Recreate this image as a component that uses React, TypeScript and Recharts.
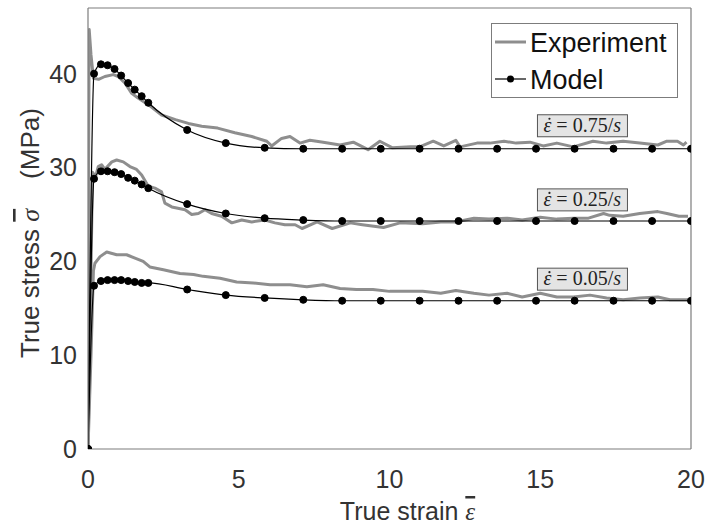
import { LineChart, Line, XAxis, YAxis, ReferenceDot, Legend } from 'recharts';

// x = true strain, y = true stress (MPa)
const exp075: [number, number][] = [
  [0, 0], [0.02, 30], [0.04, 44.7], [0.1, 42], [0.18, 39.5], [0.35, 39.4], [0.56, 39.7], [0.84, 39.9],
  [1.0, 39.7], [1.23, 39.0], [1.45, 37.9], [1.66, 37.4], [2.0, 36.7], [2.44, 35.6], [2.9, 35.1],
  [3.33, 34.7], [3.77, 34.4], [4.3, 34.2], [4.87, 33.7], [5.43, 33.3], [5.93, 32.8], [6.09, 32.3],
  [6.42, 33.1], [6.7, 33.3], [7.03, 32.6], [7.36, 32.9], [7.8, 32.7], [8.36, 32.4], [8.8, 32.7],
  [9.29, 31.9], [9.68, 32.8], [10.1, 32.1], [10.7, 32.2], [11.0, 32.2], [11.45, 32.8], [11.8, 32.3],
  [12.2, 32.9], [12.34, 32.2], [12.9, 32.6], [13.33, 32.6], [13.8, 32.8], [14.2, 32.6], [14.66, 32.7],
  [15.1, 32.3], [15.55, 32.6], [16.1, 32.2], [16.75, 32.8], [17.2, 32.6], [17.75, 32.8], [18.3, 32.6],
  [18.9, 32.4], [19.2, 32.8], [19.55, 32.8], [19.75, 32.4], [19.85, 32.7],
];

const exp025: [number, number][] = [
  [0, 0], [0.08, 15], [0.15, 29.5], [0.25, 29.0], [0.34, 30.1], [0.45, 30.3], [0.56, 29.8], [0.79, 30.6],
  [0.95, 30.8], [1.17, 30.6], [1.39, 30.1], [1.61, 29.8], [1.78, 29.2], [2.0, 28.0], [2.22, 27.8],
  [2.44, 27.4], [2.55, 26.2], [2.78, 25.8], [3.22, 25.5], [3.44, 25.0], [3.66, 25.1], [3.88, 25.5],
  [4.1, 25.1], [4.43, 24.8], [4.77, 24.1], [5.1, 24.4], [5.43, 24.2], [5.87, 24.4], [6.2, 24.1],
  [6.53, 23.9], [6.87, 23.9], [7.1, 23.5], [7.6, 24.2], [8.1, 23.5], [8.7, 24.1], [9.1, 23.9],
  [9.8, 23.6], [10.35, 24.1], [11.1, 24.0], [11.7, 24.2], [12.2, 24.2], [12.8, 24.6], [13.3, 24.5],
  [13.9, 24.6], [14.4, 24.4], [15.0, 24.7], [15.55, 24.5], [16.1, 24.6], [16.6, 24.6], [17.1, 25.1],
  [17.3, 24.9], [17.75, 24.8], [18.3, 25.1], [18.9, 25.3], [19.2, 25.1], [19.6, 24.8], [19.9, 24.8],
];

const exp005: [number, number][] = [
  [0, 0], [0.1, 10], [0.18, 19.0], [0.23, 19.8], [0.4, 20.5], [0.62, 21.0], [0.95, 20.7], [1.28, 20.7],
  [1.6, 20.3], [1.83, 20.0], [2.05, 19.4], [2.5, 19.1], [3.05, 18.7], [3.5, 18.6], [3.82, 18.4],
  [4.38, 18.2], [4.93, 17.8], [5.48, 17.7], [6.04, 17.5], [6.37, 17.5], [6.7, 17.5], [7.26, 17.3],
  [7.8, 17.5], [8.36, 17.1], [8.9, 17.0], [9.45, 17.0], [10.0, 16.8], [10.6, 16.8], [11.1, 16.8],
  [11.7, 16.6], [12.2, 16.9], [12.8, 16.6], [13.3, 16.4], [13.9, 16.6], [14.4, 16.2], [15.0, 16.6],
  [15.55, 16.2], [16.1, 16.2], [16.65, 16.4], [17.2, 16.1], [17.75, 15.9], [18.3, 16.1], [18.9, 16.2],
  [19.3, 15.9], [19.9, 15.9],
];

const modelStrain = [
  0, 0.2, 0.43, 0.65, 0.88, 1.1, 1.33, 1.55, 1.78, 2.0, 3.29, 4.57, 5.86, 7.14, 8.43, 9.71, 11.0,
  12.29, 13.57, 14.86, 16.14, 17.43, 18.71, 20,
];
const model075 = [
  0, 40.0, 41.0, 40.9, 40.5, 39.8, 39.0, 38.3, 37.6, 36.9, 34.0, 32.6, 32.1, 32.0, 32.0, 32.0, 32.0,
  32.0, 32.0, 32.0, 32.0, 32.0, 32.0, 32.0,
];
const model025 = [
  0, 28.8, 29.6, 29.6, 29.5, 29.3, 28.9, 28.6, 28.2, 27.8, 26.1, 25.1, 24.6, 24.4, 24.3, 24.3, 24.3,
  24.3, 24.3, 24.3, 24.3, 24.3, 24.3, 24.3,
];
const model005 = [
  0, 17.4, 17.9, 18.0, 18.0, 18.0, 17.9, 17.8, 17.7, 17.7, 17.0, 16.4, 16.1, 15.9, 15.8, 15.8, 15.8,
  15.8, 15.8, 15.8, 15.8, 15.8, 15.8, 15.8,
];

const rateLabels = ['0.75', '0.25', '0.05'];
const rateLabelX = 16.4;
const rateLabelY = [34.45, 26.55, 18.1];

const xTicks = [0, 5, 10, 15, 20];
const yTicks = [0, 10, 20, 30, 40];

const AXIS = '#7c7c7c';
const TEXT = '#333333';
const EXP = '#8e8e8e';
const SANS = '"Liberation Sans", Arial, sans-serif';
const SERIF = '"Liberation Serif", "Times New Roman", serif';

const pts = (pairs: [number, number][]) => pairs.map(([x, y]) => ({ x, y }));
const modelPts = (ys: number[]) => modelStrain.map((x, i) => ({ x, y: ys[i] }));

const experiments = [exp075, exp025, exp005].map(pts);
const models = [model075, model025, model005].map(modelPts);

const blank = () => '';

function RateBox(props: any) {
  const { cx, cy, label } = props;
  const x0 = cx - 39;
  return (
    <g>
      <rect x={cx - 45} y={cy - 11} width={90} height={22} fill="#e4e4e4" stroke="#555" strokeWidth={1} />
      <circle cx={x0 + 6} cy={cy - 7} r={1.1} fill="#222" />
      <text x={x0} y={cy + 6} fontFamily={SERIF} fontSize={20} fill="#222">
        <tspan fontStyle="italic">ε</tspan>
        <tspan> = {label}/</tspan>
        <tspan fontStyle="italic">s</tspan>
      </text>
    </g>
  );
}

function LegendBox() {
  return (
    <svg width={187} height={75} style={{ display: 'block' }}>
      <rect x={0.5} y={0.5} width={186} height={74} fill="#fff" stroke={AXIS} strokeWidth={1} />
      <line x1={4} x2={35} y1={19} y2={19} stroke={EXP} strokeWidth={3} />
      <text x={39} y={29} fontFamily={SANS} fontSize={27} fill="#111">Experiment</text>
      <line x1={4} x2={35} y1={56} y2={56} stroke="#000" strokeWidth={1.2} />
      <circle cx={19.5} cy={56} r={3.5} fill="#000" />
      <text x={39} y={66} fontFamily={SANS} fontSize={27} fill="#111">Model</text>
    </svg>
  );
}

export default function App() {
  return (
    <div style={{ position: 'absolute', left: 0, top: 0, width: 708, height: 529, background: '#fff' }}>
      <LineChart width={708} height={529} margin={{ top: 8, right: 17, bottom: 0, left: 0 }}>
        <XAxis
          xAxisId="b"
          type="number"
          dataKey="x"
          domain={[0, 20]}
          ticks={xTicks}
          allowDataOverflow
          height={80}
          tickLine={false}
          tickSize={6}
          tickMargin={15}
          axisLine={{ stroke: AXIS, strokeWidth: 1.2 }}
          tick={{ fill: TEXT, fontSize: 25, fontFamily: SANS }}
          label={(p: any) => {
            const vb = p.viewBox;
            return (
              <text x={vb.x + vb.width / 2 + 18} y={vb.y + 71} textAnchor="middle" fontFamily={SANS} fontSize={25} fill={TEXT}>
                True strain <tspan fontStyle="italic" fontFamily={SERIF} textDecoration="overline">ε</tspan>
              </text>
            );
          }}
        />
        <XAxis xAxisId="bm" type="number" dataKey="x" domain={[0, 20]} ticks={xTicks} mirror axisLine={false}
          tickSize={5} tickLine={{ stroke: AXIS }} tickFormatter={blank} />
        <XAxis xAxisId="t" orientation="top" type="number" dataKey="x" domain={[0, 20]} ticks={xTicks} mirror
          axisLine={{ stroke: AXIS, strokeWidth: 1.2 }} tickSize={5} tickLine={{ stroke: AXIS }} tickFormatter={blank} />
        <YAxis
          yAxisId="l"
          type="number"
          domain={[0, 47]}
          ticks={yTicks}
          allowDataOverflow
          width={88}
          tickLine={false}
          tickSize={6}
          tickMargin={5}
          axisLine={{ stroke: AXIS, strokeWidth: 1.2 }}
          tick={{ fill: TEXT, fontSize: 25, fontFamily: SANS }}
          label={() => (
            <text x={30} y={358} transform="rotate(-90, 30, 358)" dominantBaseline="central"
              fontFamily={SANS} fontSize={26} fill={TEXT}>
              True stress <tspan fontStyle="italic" fontFamily={SERIF} textDecoration="overline">σ</tspan>
              <tspan dx={30}>(MPa)</tspan>
            </text>
          )}
        />
        <YAxis yAxisId="lm" type="number" domain={[0, 47]} ticks={yTicks} mirror axisLine={false}
          tickSize={5} tickLine={{ stroke: AXIS }} tickFormatter={blank} />
        <YAxis yAxisId="r" orientation="right" type="number" domain={[0, 47]} ticks={yTicks} mirror
          axisLine={{ stroke: AXIS, strokeWidth: 1.2 }} tickSize={5} tickLine={{ stroke: AXIS }} tickFormatter={blank} />

        {experiments.map((d, i) => (
          <Line key={`e${i}`} xAxisId="b" yAxisId="l" data={d} dataKey="y" type="linear" stroke={EXP}
            strokeWidth={3} strokeLinejoin="round" dot={false} isAnimationActive={false} />
        ))}
        {models.map((d, i) => (
          <Line key={`m${i}`} xAxisId="b" yAxisId="l" data={d} dataKey="y" type="monotone" stroke="#000"
            strokeWidth={1.2} dot={{ r: 3.5, fill: '#000', stroke: '#000', strokeWidth: 1 }} isAnimationActive={false} />
        ))}

        {rateLabels.map((lab, i) => (
          <ReferenceDot key={lab} xAxisId="b" yAxisId="l" x={rateLabelX} y={rateLabelY[i]}
            shape={(p: any) => <RateBox {...p} label={lab} />} />
        ))}

        <Legend layout="horizontal" verticalAlign="middle" align="center" content={() => <LegendBox />}
          wrapperStyle={{ left: 491, top: 23, width: 187, height: 75 }} />
      </LineChart>
    </div>
  );
}
